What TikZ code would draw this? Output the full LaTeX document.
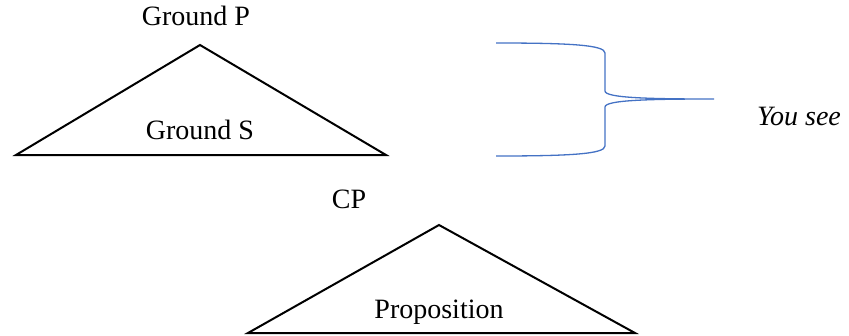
\documentclass[tikz,border=0pt]{standalone}
\usepackage{fontspec}
\setmainfont{Liberation Serif}
\begin{document}
\begin{tikzpicture}[x=1pt,y=-1pt,
  tri/.style={draw=black,line width=2pt,line join=miter},
  lbl/.style={font=\fontsize{28}{32}\selectfont,inner sep=0pt,anchor=base},
  brace/.style={draw={rgb,255:red,68;green,114;blue,196},line width=1.3pt}]
\useasboundingbox (0,0) rectangle (849,335);
% first triangle
\coordinate (t1a) at (200,45);
\coordinate (t1l) at (16,155);
\coordinate (t1r) at (386,155);
\draw[tri] (t1a) -- (t1r) -- (t1l) -- cycle;
\node[lbl] (gp) at (196,25) {Ground P};
\node[lbl] (gs) at (200,139) {Ground S};
% second triangle
\coordinate (t2a) at (439,225);
\coordinate (t2l) at (248,333);
\coordinate (t2r) at (635,333);
\draw[tri] (t2a) -- (t2r) -- (t2l) -- cycle;
\node[lbl] (cp) at (349,208) {CP};
\node[lbl] (prop) at (439,318) {Proposition};
% brace
\coordinate (b1) at (496,43);
\coordinate (b2) at (605,53);
\coordinate (b3) at (605,91);
\coordinate (bt) at (714,99);
\coordinate (b4) at (605,107);
\coordinate (b5) at (605,146);
\coordinate (b6) at (496,156);
\draw[brace] (b1) .. controls (570,43) and (605,45) .. (b2) -- (b3)
  .. controls (605,98) and (650,99) .. (bt)
  .. controls (650,99) and (605,100) .. (b4) -- (b5)
  .. controls (605,154) and (570,156) .. (b6);
\node[lbl,font=\fontsize{28}{32}\selectfont\itshape] (ys) at (799,125) {You see};
\end{tikzpicture}
\end{document}
